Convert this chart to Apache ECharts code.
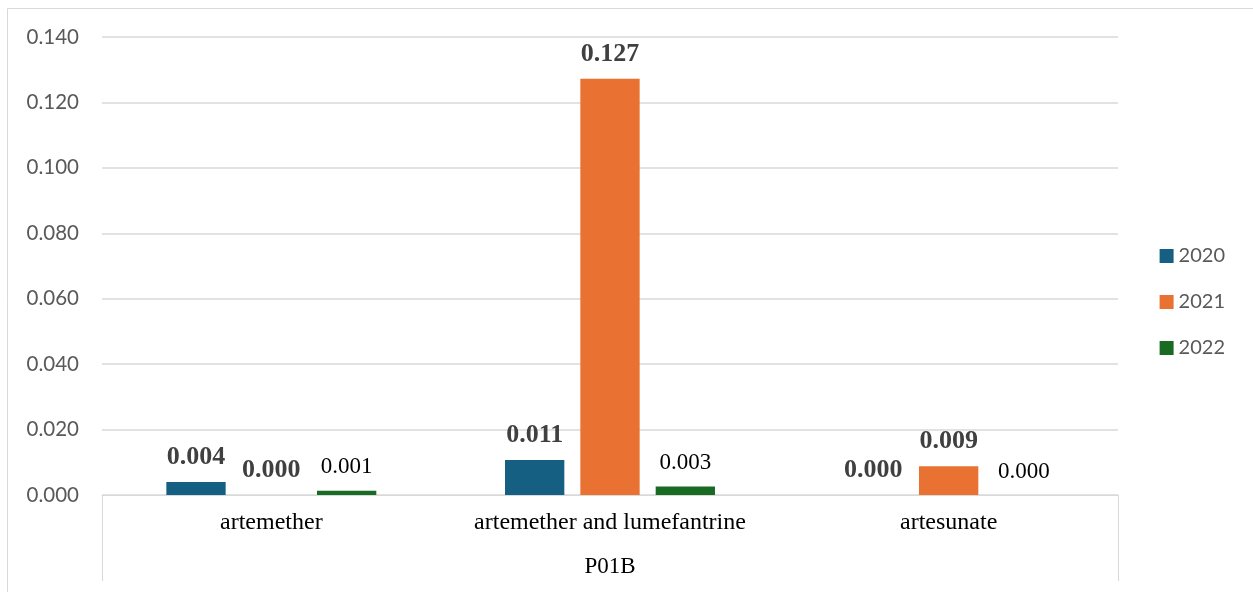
<!DOCTYPE html>
<html>
<head>
<meta charset="utf-8">
<script src="https://cdn.jsdelivr.net/npm/echarts@6/dist/echarts.min.js"></script>
<style>
  html, body { margin: 0; padding: 0; background: #fff; }
  #chart { width: 1253px; height: 592px; }
</style>
</head>
<body>
<div id="chart"></div>
<script>
// ATC group and the substances within it
const groupName = 'P01B';
const categories = ['artemether', 'artemether and lumefantrine', 'artesunate'];
const years = ['2020', '2021', '2022'];

// values per year, one entry per substance
const values2020 = [0.004, 0.0107, 0.0];
const values2021 = [0.0, 0.1272, 0.0088];
const values2022 = [0.0013, 0.0026, 0.0];

const yTicks = { min: 0, max: 0.14, interval: 0.02 };

const colors = ['#156082', '#E97132', '#196B24'];
const serif = '"Liberation Serif", "Times New Roman", serif';
const sans = 'Lato, "Open Sans", sans-serif';

function barSeries(name, data, color, bold) {
  return {
    name: name,
    type: 'bar',
    xAxisIndex: 0,
    data: data,
    itemStyle: { color: color },
    barGap: '27%',
    barCategoryGap: '38%',
    label: {
      show: true,
      position: 'top',
      distance: 12,
      fontFamily: serif,
      fontSize: bold ? 26 : 23,
      fontWeight: bold ? 'bold' : 'normal',
      color: bold ? '#404040' : '#000000',
      formatter: p => p.value.toFixed(3)
    }
  };
}

const chart = echarts.init(document.getElementById('chart'), null, { renderer: 'canvas' });
chart.setOption({
  animation: false,
  backgroundColor: '#ffffff',
  graphic: [{
    type: 'rect',
    shape: { x: 7.5, y: 8.5, width: 1260, height: 600 },
    style: { fill: 'none', stroke: '#d9d9d9', lineWidth: 1 },
    silent: true
  }],
  grid: { left: 102, right: 135, top: 37, bottom: 97, containLabel: false },
  legend: {
    orient: 'vertical',
    right: 23,
    top: 241,
    itemWidth: 14,
    itemHeight: 14,
    itemGap: 26,
    icon: 'rect',
    textStyle: { fontFamily: sans, fontSize: 20, color: '#595959' },
    data: years
  },
  xAxis: [{
    type: 'category',
    data: categories,
    axisLine: { show: true, lineStyle: { color: '#d9d9d9', width: 1 } },
    axisTick: { show: false },
    axisLabel: { interval: 0, fontFamily: serif, fontSize: 24, color: '#000000', margin: 16 }
  }, {
    type: 'category',
    data: [groupName],
    position: 'bottom',
    axisLine: { show: false },
    axisTick: { show: true, length: 86, lineStyle: { color: '#d9d9d9', width: 1 } },
    axisLabel: { interval: 0, fontFamily: serif, fontSize: 23, color: '#000000', margin: 60 }
  }],
  yAxis: {
    type: 'value',
    min: yTicks.min,
    max: yTicks.max,
    interval: yTicks.interval,
    axisLine: { show: false },
    axisTick: { show: false },
    splitLine: { lineStyle: { color: '#d9d9d9', width: 1.5 } },
    axisLabel: {
      fontFamily: sans, fontSize: 20.5, color: '#595959', margin: 23,
      formatter: v => v.toFixed(3)
    }
  },
  series: [
    barSeries(years[0], values2020, colors[0], true),
    barSeries(years[1], values2021, colors[1], true),
    barSeries(years[2], values2022, colors[2], false)
  ]
});
</script>
</body>
</html>
